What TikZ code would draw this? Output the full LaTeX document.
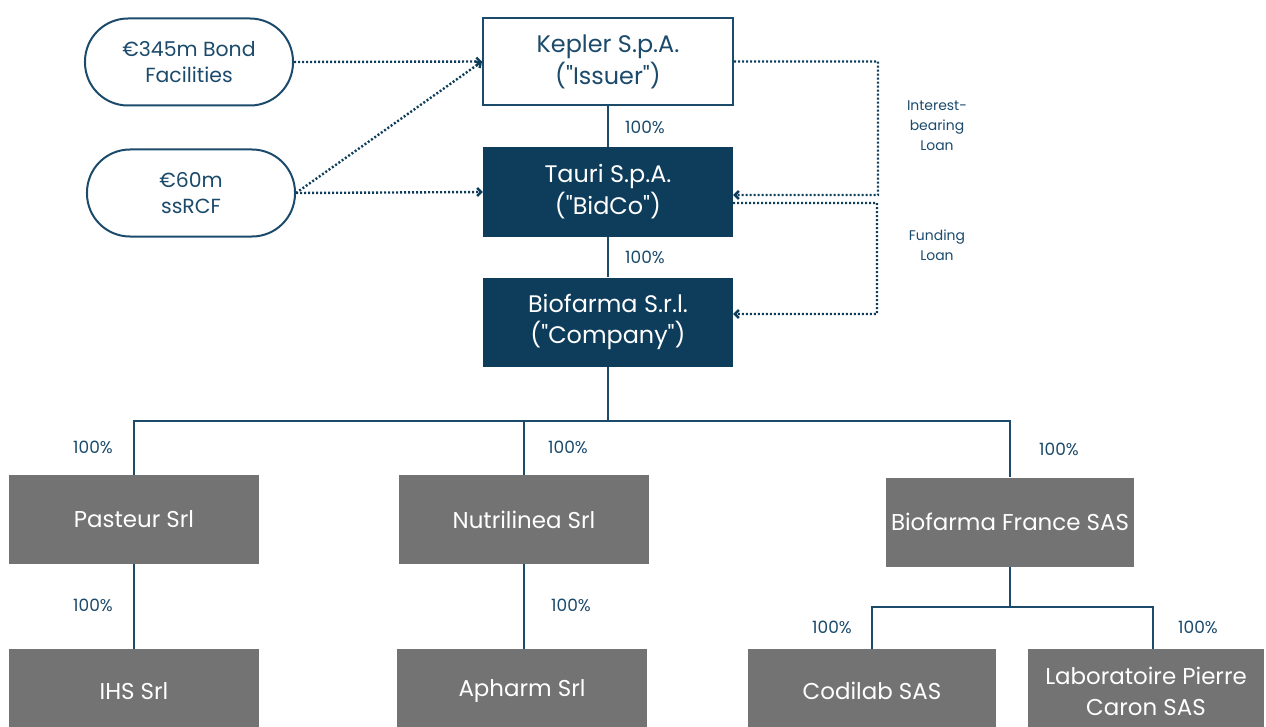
\documentclass[tikz,border=0pt]{standalone}
\usepackage{fontspec}
\setmainfont{Poppins}
\newfontfamily\popplain{Poppins}
\usetikzlibrary{arrows.meta}
\definecolor{navy}{HTML}{0E3D5C}
\definecolor{lineblue}{HTML}{1B4A6B}
\definecolor{boxgrey}{HTML}{737373}
\newcommand\sq{{\popplain\symbol{34}}}
\begin{document}
\begin{tikzpicture}[x=1bp,y=-1bp,
 entity/.style={minimum width=250bp, minimum height=89bp, inner sep=0pt, align=center, font=\fontsize{24}{32}\selectfont},
 navybox/.style={entity, fill=navy, text=white},
 issuerbox/.style={entity, draw=lineblue, line width=2bp, fill=white, text=lineblue},
 greybox/.style={entity, fill=boxgrey, text=white, font=\fontsize{23}{31}\selectfont},
 pill/.style={draw=lineblue, line width=2bp, rounded corners=43bp, minimum width=208bp, minimum height=87bp, inner sep=0pt, align=center, text=lineblue, font=\fontsize{20.5}{26}\selectfont},
 own/.style={draw=lineblue, line width=2.5bp},
 pct/.style={text=lineblue, font=\fontsize{17}{18}\selectfont, inner sep=0pt},
 loan/.style={draw=navy, line width=2.4bp, dash pattern=on 2bp off 2bp, -{Straight Barb[length=4bp,width=8bp]}},
 loanlbl/.style={text=lineblue, align=center, font=\fontsize{14}{20}\selectfont}]
\clip (0,0) rectangle (1266,727);
% top entities
\node[pill] (bond) at (189,62) {€345m Bond\\Facilities};
\node[pill] (rcf) at (191,193) {€60m\\ssRCF};
\node[issuerbox, minimum height=87bp] (kepler) at (608,61.5) {Kepler S.p.A.\\(\sq Issuer\sq)};
\node[navybox] (tauri) at (608,192) {Tauri S.p.A.\\(\sq BidCo\sq)};
\node[navybox] (bio) at (608,322) {Biofarma S.r.l.\\(\sq Company\sq)};
% subsidiaries
\node[greybox] (pasteur) at (134,519.5) {Pasteur Srl};
\node[greybox] (nutri) at (524,519.5) {Nutrilinea Srl};
\node[greybox, minimum width=248bp] (france) at (1010,522) {Biofarma France SAS};
\node[greybox, minimum height=84bp] (ihs) at (134,691) {IHS Srl};
\node[greybox, minimum height=84bp] (apharm) at (522,691) {Apharm Srl};
\node[greybox, minimum width=248bp, minimum height=84bp] (codilab) at (872,691) {Codilab SAS};
\node[greybox, minimum width=236bp, minimum height=84bp] (labo) at (1146,691) {Laboratoire Pierre\\Caron SAS};
% ownership lines
\coordinate (bus) at (609,421);
\coordinate (fbus) at (1011,607);
\draw[own] (kepler) -- (tauri);
\draw[own] (tauri) -- (bio);
\draw[own] (bio.south) -- (bio.south |- bus);
\draw[own] (pasteur.north) |- (france.north |- bus) -- (france.north);
\draw[own] (nutri.north) -- (nutri.north |- bus);
\draw[own] (pasteur) -- (ihs);
\draw[own] (nutri.south) -- (nutri.south |- apharm.north);
\draw[own] (france.south) -- (france.south |- fbus);
\draw[own] (codilab.north) |- ([xshift=7bp]labo.north |- fbus) -- ([xshift=7bp]labo.north);
% percentages
\node[pct] at (645,127) {100\%};
\node[pct] at (645,257) {100\%};
\node[pct] at (93,447) {100\%};
\node[pct] at (568,447) {100\%};
\node[pct] at (1059,449) {100\%};
\node[pct] at (93,605) {100\%};
\node[pct] at (571,605) {100\%};
\node[pct] at (832,627) {100\%};
\node[pct] at (1198,627) {100\%};
% loans
\draw[loan] (bond.east) -- (kepler.west);
\draw[loan] (rcf.east) -- (kepler.west);
\draw[loan] (rcf.east) -- (tauri.west);
\coordinate (r1) at (878,61.5);
\coordinate (r2) at (878,195);
\coordinate (r3) at (877,203);
\coordinate (r4) at (877,314);
\draw[loan] (kepler.east) -- (r1) -- (r2) -- ([yshift=-3bp]tauri.east);
\draw[loan] ([yshift=-11bp]tauri.east) -- (r3) -- (r4) -- ([yshift=8bp]bio.east);
\node[loanlbl] at (937,126) {Interest-\\bearing\\Loan};
\node[loanlbl] at (937,245) {Funding\\Loan};
\end{tikzpicture}
\end{document}
